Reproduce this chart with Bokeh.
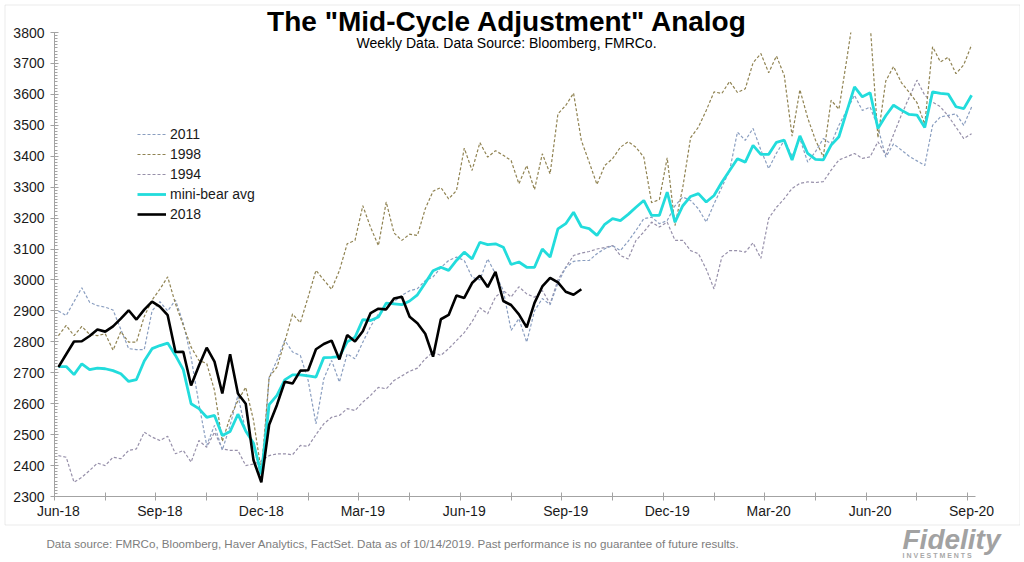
from bokeh.plotting import figure
from bokeh.models import FixedTicker, Label, Legend, LegendItem, BoxAnnotation, Range1d
from bokeh.embed import file_html
from bokeh.resources import INLINE

# weekly observations, week 0 = first week of the chart (late Jun-18)
weeks = list(range(118))
tick_weeks = [0, 13, 26, 39, 52, 65, 78, 91, 104, 117]
tick_labels = ["Jun-18", "Sep-18", "Dec-18", "Mar-19", "Jun-19",
               "Sep-19", "Dec-19", "Mar-20", "Jun-20", "Sep-20"]

s2011 = [2900, 2885, 2930, 2975, 2928, 2917, 2912, 2903, 2840, 2778,
         2775, 2775, 2900, 2930, 2900, 2935, 2860, 2750, 2600, 2465,
         2530, 2450, 2530, 2627, 2510, 2470, 2352, 2685, 2740, 2805,
         2767, 2756, 2675, 2535, 2680, 2740, 2670, 2761, 2745, 2799,
         2850, 2890, 2905, 2930, 2950, 2965, 2972, 2998, 3010, 3040,
         3063, 3074, 3063, 3009, 3000, 3068, 3020, 2966, 2837, 2875,
         2799, 2900, 2940, 2920, 2990, 3040, 3060, 3063, 3063, 3085,
         3101, 3111, 3095, 3125, 3160, 3198, 3203, 3182, 3192, 3240,
         3268, 3257, 3230, 3187, 3246, 3300, 3354, 3478, 3451, 3490,
         3420, 3360, 3410, 3451, 3400, 3457, 3381, 3415, 3457, 3440,
         3500, 3548, 3597, 3548, 3559, 3494, 3397, 3440, 3420, 3400,
         3385, 3370, 3500, 3527, 3532, 3537, 3500, 3559]

s1998 = [2820, 2853, 2820, 2850, 2824, 2820, 2826, 2773, 2833, 2799,
         2799, 2882, 2935, 2970, 3010, 2923, 2853, 2783, 2740, 2730,
         2643, 2478, 2556, 2610, 2653, 2546, 2380, 2686, 2718, 2800,
         2890, 2862, 2945, 3031, 3000, 2970, 3030, 3117, 3128, 3240,
         3170, 3111, 3252, 3152, 3128, 3148, 3144, 3230, 3287, 3299,
         3262, 3289, 3426, 3354, 3444, 3397, 3418, 3403, 3386, 3311,
         3370, 3292, 3408, 3343, 3537, 3564, 3604, 3451, 3381, 3309,
         3370, 3392, 3429, 3447, 3429, 3397, 3250, 3260, 3395, 3176,
         3300, 3460, 3494, 3548, 3608, 3603, 3642, 3606, 3618, 3702,
         3732, 3670, 3724, 3661, 3465, 3615, 3524, 3452, 3398, 3581,
         3552, 3712, 3880, 3900, 3830, 3460, 3643, 3690, 3638, 3607,
         3573, 3503, 3754, 3705, 3720, 3667, 3696, 3760]

s1994 = [2432, 2427, 2346, 2362, 2384, 2408, 2400, 2427, 2422, 2449,
         2454, 2508, 2492, 2481, 2495, 2438, 2449, 2411, 2481, 2459,
         2508, 2454, 2449, 2449, 2400, 2405, 2415, 2432, 2438, 2438,
         2435, 2465, 2462, 2500, 2535, 2556, 2562, 2584, 2578, 2605,
         2627, 2653, 2648, 2675, 2690, 2705, 2715, 2745, 2767, 2756,
         2778, 2804, 2830, 2865, 2910, 2891, 2945, 2966, 2945, 2978,
         2955, 2944, 2966, 2923, 3000, 3041, 3079, 3087, 3092, 3100,
         3105, 3111, 3079, 3068, 3128, 3155, 3187, 3171, 3187, 3128,
         3128, 3095, 3085, 3035, 2971, 3074, 3095, 3095, 3090, 3120,
         3070, 3199, 3235, 3263, 3296, 3312, 3317, 3315, 3318, 3355,
         3388, 3398, 3409, 3393, 3398, 3447, 3404, 3470, 3533, 3590,
         3646, 3597, 3575, 3560, 3530, 3494, 3457, 3473]

mini_bear = [2720, 2720, 2694, 2729, 2710, 2715, 2713, 2707, 2697, 2672,
             2678, 2738, 2778, 2788, 2796, 2756, 2710, 2600, 2584, 2556,
             2562, 2497, 2510, 2566, 2512, 2472, 2372, 2597, 2627, 2677,
             2693, 2693, 2690, 2686, 2749, 2750, 2752, 2800, 2815, 2872,
             2869, 2880, 2925, 2923, 2920, 2932, 2952, 2990, 3030, 3041,
             3031, 3063, 3090, 3068, 3122, 3114, 3117, 3106, 3050, 3058,
             3041, 3041, 3100, 3074, 3165, 3182, 3219, 3172, 3166, 3144,
             3180, 3198, 3192, 3212, 3235, 3257, 3209, 3209, 3284, 3187,
             3240, 3270, 3279, 3252, 3273, 3316, 3354, 3392, 3381, 3435,
             3406, 3406, 3445, 3452, 3388, 3466, 3409, 3390, 3388, 3436,
             3463, 3544, 3624, 3592, 3605, 3490, 3531, 3565, 3549, 3535,
             3533, 3493, 3608, 3603, 3601, 3560, 3554, 3597]

s2018 = [2718, 2760, 2801, 2802, 2819, 2840, 2833, 2850, 2875, 2902,
         2872, 2904, 2930, 2914, 2886, 2767, 2768, 2659, 2723, 2781,
         2736, 2633, 2760, 2633, 2600, 2417, 2346, 2532, 2596, 2671,
         2665, 2707, 2708, 2776, 2793, 2804, 2743, 2822, 2801, 2834,
         2893, 2907, 2905, 2940, 2946, 2881, 2860, 2826, 2752, 2873,
         2887, 2950, 2942, 2990, 3014, 2977, 3026, 2932, 2919, 2889,
         2847, 2926, 2979, 3007, 2992, 2962, 2952, 2970]

FONT = "Liberation Sans"
AXIS_GREY = "#a3a3a3"

# canvas and where the plotting box sits in it (pixels)
W, H = 1020, 560
BOX_L, BOX_R, BOX_T, BOX_B = 54, 975, 32, 496
X0, X1 = -0.5, 117.5
Y0, Y1 = 2300, 3800

# the frame fills the whole canvas; ranges are stretched so the data box
# lands where it should, and the axes are pinned to the data box edges
xs = (BOX_R - BOX_L) / (X1 - X0)
ys = (BOX_B - BOX_T) / (Y1 - Y0)
x_range = Range1d(X0 - BOX_L / xs, X1 + (W - BOX_R) / xs)
y_range = Range1d(Y0 - (H - BOX_B) / ys, Y1 + BOX_T / ys)

p = figure(width=W, height=H, output_backend="svg", toolbar_location=None,
           x_range=x_range, y_range=y_range,
           min_border_left=0, min_border_right=0,
           min_border_top=0, min_border_bottom=0)
p.title.visible = False
p.outline_line_color = None
p.grid.visible = False
p.background_fill_color = "white"
p.border_fill_color = "white"

# dashed analogs first, average and 2018 on top
r1994 = p.line(weeks, s1994, line_color="#9790aa", line_width=1.2, line_dash="3 2")
r2011 = p.line(weeks, s2011, line_color="#8a9ec0", line_width=1.2, line_dash="3 2")
r1998 = p.line(weeks, s1998, line_color="#908352", line_width=1.2, line_dash="3 2")
rmini = p.line(weeks, mini_bear, line_color="#22dcdc", line_width=2.8)
r2018 = p.line(weeks[:len(s2018)], s2018, line_color="black", line_width=2.6)

# hide whatever runs above the top of the value axis
p.add_layout(BoxAnnotation(bottom=Y1, fill_color="white", fill_alpha=1,
                           line_alpha=0, level="glyph"))

# x axis: labels centred on the week, tick marks on the boundaries
boundaries = [w - 0.5 for w in tick_weeks]
midpoints = [w + 6 for w in tick_weeks[:-1]]
xa = p.xaxis[0]
xa.fixed_location = Y0
xa.bounds = (X0, X1)
xa.ticker = FixedTicker(ticks=tick_weeks, minor_ticks=sorted(boundaries + midpoints))
xa.major_label_overrides = {w: lab for w, lab in zip(tick_weeks, tick_labels)}
xa.major_tick_in = 0
xa.major_tick_out = 0
xa.minor_tick_in = 4
xa.minor_tick_out = 4
xa.major_label_standoff = 2

ya = p.yaxis[0]
ya.fixed_location = X0
ya.bounds = (Y0, Y1)
ya.ticker = FixedTicker(ticks=list(range(2300, 3801, 100)),
                        minor_ticks=list(range(2300, 3801, 10)))
ya.major_tick_in = 4
ya.major_tick_out = 4
ya.minor_tick_in = 3
ya.minor_tick_out = 0
ya.major_label_standoff = 6

for ax in (xa, ya):
    ax.axis_line_color = AXIS_GREY
    ax.major_tick_line_color = AXIS_GREY
    ax.minor_tick_line_color = AXIS_GREY
    ax.major_label_text_font = FONT
    ax.major_label_text_font_size = "14px"
    ax.major_label_text_color = "#1a1a1a"

legend = Legend(items=[LegendItem(label="2011", renderers=[r2011]),
                       LegendItem(label="1998", renderers=[r1998]),
                       LegendItem(label="1994", renderers=[r1994]),
                       LegendItem(label="mini-bear avg", renderers=[rmini]),
                       LegendItem(label="2018", renderers=[r2018])],
                location=(137, H - 224), padding=0, margin=0, spacing=0,
                glyph_width=29, glyph_height=20, label_height=20,
                label_standoff=4, label_text_font=FONT,
                label_text_font_size="14px", label_text_color="#1a1a1a",
                border_line_color=None, background_fill_alpha=0)
p.add_layout(legend)

# texts, in canvas pixels measured from the bottom-left corner
p.add_layout(Label(x=507, y=H - 21, x_units="screen", y_units="screen",
                   text='The "Mid-Cycle Adjustment" Analog',
                   text_align="center", text_baseline="alphabetic",
                   text_font=FONT, text_font_style="bold",
                   text_font_size="28px", text_color="black"))
p.add_layout(Label(x=506, y=H - 42, x_units="screen", y_units="screen",
                   text="Weekly Data. Data Source: Bloomberg, FMRCo.",
                   text_align="center", text_baseline="alphabetic",
                   text_font=FONT, text_font_size="14px", text_color="black"))
p.add_layout(Label(x=46, y=H - 542.5, x_units="screen", y_units="screen",
                   text="Data source: FMRCo, Bloomberg, Haver Analytics, FactSet.  "
                        "Data as of 10/14/2019. Past performance is no guarantee of future results.",
                   text_baseline="alphabetic", text_font=FONT,
                   text_font_size="11.6px", text_color="#7d7d7d"))
p.add_layout(Label(x=902, y=H - 539, x_units="screen", y_units="screen",
                   text="Fidelity", text_baseline="alphabetic",
                   text_font=FONT, text_font_style="bold italic",
                   text_font_size="28px", text_color="#a2a2a2"))
p.add_layout(Label(x=902, y=H - 555, x_units="screen", y_units="screen",
                   text="I N V E S T M E N T S", text_baseline="alphabetic",
                   text_font=FONT, text_font_style="bold", text_font_size="7px",
                   text_color="#a8a8a8"))

# thin grey frame round the whole chart
p.add_layout(BoxAnnotation(left=4.5, right=1019.5, top=H - 4.5, bottom=H - 524.5,
                           left_units="screen", right_units="screen",
                           top_units="screen", bottom_units="screen",
                           fill_alpha=0, line_color="#b8b8b8", line_width=1))

open("out.html", "w").write(file_html(p, INLINE))
